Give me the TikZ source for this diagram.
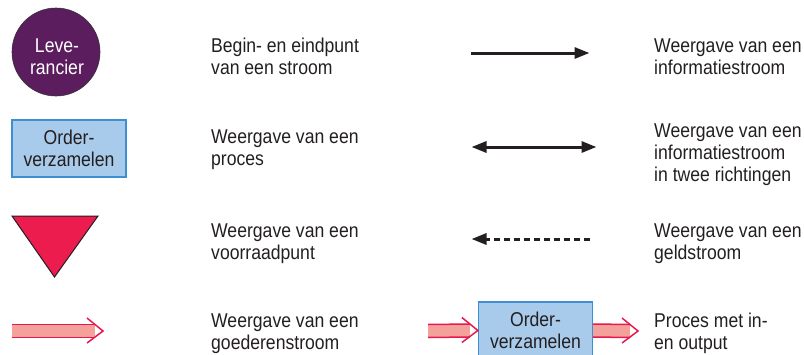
\documentclass[tikz,border=0pt]{standalone}
\usepackage{fontspec}
\setmainfont{Liberation Sans}[FakeStretch=0.88]
\usetikzlibrary{arrows.meta,calc}

\definecolor{levpurple}{HTML}{5C1D5E}
\definecolor{procfill}{HTML}{A9CBEB}
\definecolor{procline}{HTML}{3D8FD1}
\definecolor{stockred}{HTML}{EC1C4E}
\definecolor{goodsfill}{HTML}{F4A19B}
\definecolor{goodsred}{HTML}{E8194E}
\definecolor{textgray}{HTML}{231F20}

% goederenstroom: #1 = begin, #2 = punt van de pijl
\newcommand{\goodsarrow}[2]{%
  \fill[goodsfill] ($(#1)+(0,-6.5)$) rectangle ($(#2)+(-8,6.5)$);
  \draw[goodsline] ($(#1)+(0,-6.5)$) -- ($(#2)+(-8,-6.5)$);
  \draw[goodsline] ($(#1)+(0,6.5)$) -- ($(#2)+(-8,6.5)$);
  \draw[goodsline] ($(#2)+(-16,-13)$) -- (#2) -- ($(#2)+(-16,12)$);
}

\begin{document}
\begin{tikzpicture}
        [
            x=1pt, y=-1pt,
            txt/.style={anchor=base west, align=left, inner sep=0pt, text=textgray,
                font=\fontsize{20}{21.6}\selectfont},
            proc/.style={rectangle, draw=procline, line width=1.2pt, fill=procfill,
                minimum width=114pt, minimum height=57pt, inner sep=0pt, align=center,
                text=textgray, font=\fontsize{20}{21.6}\selectfont},
            infoline/.style={line width=3pt, draw=textgray},
            tip/.style={-{Triangle[length=15pt, width=11pt]}},
            goodsline/.style={draw=goodsred, line width=1.5pt}
        ]
        \useasboundingbox (0,0) rectangle (804,354);
        % Leverancier
        \node[circle, minimum size=88pt, fill=levpurple, draw=black!80, line width=0.6pt] (lev) at (56,52) {};
        \node[align=center, inner sep=0pt, text=white, font=\fontsize{20}{21.6}\selectfont]
            (levtxt) at ($(lev.center)+(1,4.6)$) {Leve-\\rancier};
        \node[txt] (begin) at (211,74.3) {Begin- en eindpunt\\van een stroom};
        % Orderverzamelen
        \node[proc] (order) at (69,148.5) {Order-\\verzamelen};
        \node[txt] (proces) at (211,165) {Weergave van een\\proces};
        % Voorraadpunt
        \draw[fill=stockred, draw=textgray, line width=1pt] (12,216) -- (98,216) -- (54.5,277) -- cycle;
        \node[txt] (voorraad) at (211,259.3) {Weergave van een\\voorraadpunt};
        % Goederenstroom
        \coordinate (ga1) at (12,331);
        \coordinate (ga2) at (103,331);
        \goodsarrow{ga1}{ga2}
        \node[txt] (goederen) at (211,349.3) {Weergave van een\\goederenstroom};
        % Informatiestroom
        \coordinate (ia1) at (471,53);
        \coordinate (ia2) at (589.5,53);
        \draw[infoline, tip] (ia1) -- (ia2);
        \node[txt] (info) at (654,74.3) {Weergave van een\\informatiestroom};
        % Twee richtingen
        \coordinate (ib1) at (471.5,147);
        \coordinate (ib2) at (596.5,147);
        \draw[infoline, {Triangle[length=15pt, width=11pt]}-{Triangle[length=15pt, width=11pt]}] (ib1) -- (ib2);
        \node[txt] (twee) at (654,181) {Weergave van een\\informatiestroom\\in twee richtingen};
        % Geldstroom
        \coordinate (gs1) at (590,239);
        \coordinate (gs2) at (471.5,239);
        \draw[infoline, dash pattern=on 6pt off 4pt, tip] (gs1) -- (gs2);
        \node[txt] (geld) at (654,259.3) {Weergave van een\\geldstroom};
        % Proces met in- en output
        \node[proc] (order2) at (535.5,330.5) {Order-\\verzamelen};
        \coordinate (in1) at (428,331);
        \coordinate (out2) at (638,331);
        \goodsarrow{in1}{order2.west}
        \goodsarrow{order2.east}{out2}
        \node[txt] (inout) at (654,349) {Proces met in-\\en output};
    \end{tikzpicture}
\end{document}
